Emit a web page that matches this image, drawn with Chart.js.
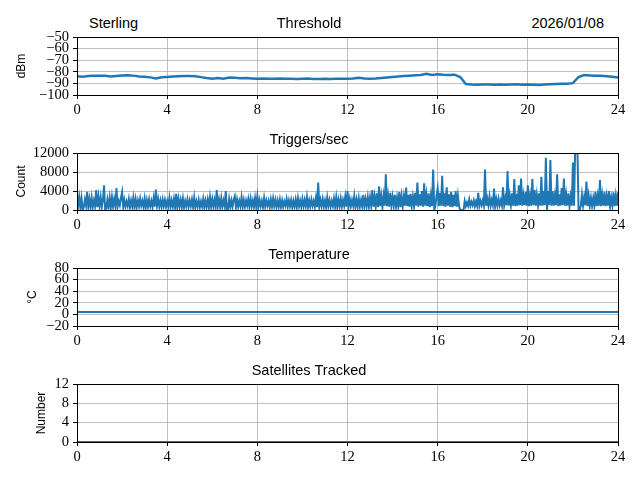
<!DOCTYPE html>
<html>
<head>
<meta charset="utf-8">
<script src="https://cdn.jsdelivr.net/npm/chart.js@4.4.1/dist/chart.umd.min.js"></script>
<style>
  html, body { margin: 0; padding: 0; background: #fff; }
  body { width: 640px; height: 480px; position: relative; overflow: hidden; }
  canvas { position: absolute; left: 0; }
  .hdr { position: absolute; font-family: "Liberation Sans", Arial, sans-serif; font-size: 14.5px; line-height: 17.4px; color: #000; white-space: nowrap; }
</style>
</head>
<body>
<div class="hdr" id="site" style="left:89px; top:15px;">Sterling</div>
<div class="hdr" id="date" style="right:36px; top:15px;">2026/01/08</div>
<canvas id="c1" width="640" height="104" style="top:13px"></canvas>
<canvas id="c2" width="640" height="103" style="top:129px"></canvas>
<canvas id="c3" width="640" height="104" style="top:244px"></canvas>
<canvas id="c4" width="640" height="104" style="top:360px"></canvas>
<script>
// ---------------- data ----------------
const hourTicks = [0, 4, 8, 12, 16, 20, 24];

// Threshold (dBm), sampled every 0.25 h
const thresholdStep = 0.25;
const thresholdValues = [
  -83.8, -84.2, -83.6, -83.3, -83.5, -83.4, -84.0, -83.6, -83.2, -82.9, -83.3, -84.0,
  -84.2, -84.8, -85.7, -84.7, -84.4, -84.0, -83.8, -83.6, -83.7, -83.9, -84.6, -85.4,
  -86.0, -85.3, -85.9, -85.0, -85.2, -85.5, -85.4, -85.7, -85.9, -85.8, -86.0, -85.9,
  -85.8, -86.0, -85.9, -86.1, -86.0, -85.8, -86.1, -86.2, -86.0, -86.1, -85.9, -86.0,
  -85.9, -85.7, -85.1, -85.7, -85.9, -85.8, -85.4, -84.9, -84.4, -84.0, -83.7, -83.4,
  -83.0, -82.7, -81.8, -82.8, -82.1, -82.6, -82.7, -82.5, -84.5, -90.5, -91.0, -91.1,
  -90.9, -91.0, -91.1, -90.9, -91.2, -91.0, -90.8, -91.1, -91.0, -91.2, -91.4, -91.0,
  -90.8, -90.6, -90.4, -90.3, -89.8, -84.5, -82.8, -83.2, -83.5, -83.4, -83.8, -84.3,
  -85.0
];
const thresholdTicks = [-100, -90, -80, -70, -60, -50];

// Triggers/sec (count), sampled every 0.05 h (one row per hour)
const triggerStep = 0.05;
const triggerValues = [
  3500, 800, 2700, 500, 2500, 0, 600, 2200, 900, 3800, 700, 2300, 500, 2600, 600, 2000, 800, 4200, 600, 2800,
  800, 2700, 600, 2100, 5200, 0, 300, 2200, 600, 2600, 500, 2700, 700, 2300, 800, 4600, 700, 1900, 1000, 2600,
  3800, 600, 2100, 700, 1800, 800, 2300, 600, 2000, 700, 2600, 500, 2300, 600, 2000, 800, 2400, 900, 1900, 600,
  2400, 500, 2100, 700, 2200, 800, 1900, 600, 2500, 700, 4300, 900, 2300, 700, 2000, 600, 2200, 800, 2100, 700,
  1900, 800, 2600, 600, 2000, 700, 2300, 500, 3400, 600, 2400, 700, 2100, 600, 2400, 500, 1900, 800, 2200, 700,
  2000, 800, 2200, 600, 2600, 500, 1800, 700, 2100, 600, 1800, 700, 2300, 500, 2000, 700, 2200, 500, 2700, 700,
  2300, 700, 2100, 600, 4200, 800, 2200, 600, 2500, 700, 2000, 800, 4000, 0, 200, 2300, 700, 2000, 600, 2200,
  2900, 600, 2200, 700, 1900, 800, 2700, 600, 2100, 700, 2000, 900, 2300, 600, 2400, 800, 2000, 600, 2500, 700,
  2900, 700, 2100, 800, 1900, 600, 2500, 700, 2000, 900, 1900, 600, 2200, 700, 2400, 800, 2100, 600, 2000, 700,
  2200, 600, 2000, 700, 1800, 900, 2300, 700, 2000, 800, 2100, 600, 1900, 700, 2200, 600, 2500, 800, 2000, 700,
  2300, 700, 2100, 800, 2700, 600, 2000, 700, 2200, 900, 1900, 700, 2500, 600, 5800, 700, 2100, 800, 2300, 700,
  2000, 600, 2600, 800, 2100, 700, 1900, 800, 2400, 700, 2700, 600, 2200, 800, 2400, 700, 2100, 900, 2800, 700,
  4000, 700, 2300, 800, 2100, 900, 2900, 700, 2200, 600, 2500, 700, 2100, 800, 3200, 700, 2300, 800, 2700, 700,
  2600, 900, 4200, 700, 2800, 800, 3500, 600, 5000, 800, 2900, 600, 3000, 900, 7500, 800, 3000, 700, 3600, 900,
  2800, 900, 3200, 700, 2600, 800, 3800, 600, 2900, 700, 2800, 900, 4700, 800, 3200, 700, 3400, 900, 2800, 800,
  3600, 900, 5800, 700, 3300, 900, 4000, 700, 5600, 900, 3200, 800, 3500, 600, 3000, 800, 8500, 0, 900, 3000,
  4500, 800, 3600, 900, 7200, 800, 3500, 700, 4800, 900, 3300, 700, 3800, 600, 3200, 800, 4000, 700, 3000, 800,
  0, 0, 0, 0, 1900, 800, 1600, 900, 2200, 900, 1700, 1000, 2000, 800, 1800, 900, 3600, 900, 1900, 1000,
  2000, 900, 8500, 900, 2400, 1000, 2800, 900, 2100, 1000, 4500, 800, 2300, 900, 2400, 1000, 2000, 900, 4800, 1000,
  2500, 1000, 8200, 900, 3000, 1000, 3500, 900, 6500, 800, 3400, 900, 5200, 1000, 6600, 900, 3100, 1000, 3800, 900,
  5200, 800, 3000, 900, 6500, 1000, 4200, 900, 3200, 1000, 3500, 900, 7000, 900, 4000, 1000, 11000, 0, 4000, 1000,
  10500, 900, 4000, 900, 3000, 1000, 7500, 800, 3300, 900, 4600, 1000, 6600, 900, 3200, 900, 3500, 800, 2800, 900,
  10000, 900, 12800, 12800, 13000, 0, 0, 900, 3200, 900, 2700, 1000, 6000, 800, 3000, 900, 2600, 800, 2500, 900,
  3800, 800, 2900, 900, 6300, 800, 3100, 900, 3800, 800, 2900, 900, 4000, 800, 2600, 900, 3700, 800, 3000, 900,
  3800
];
const triggerTicks = [0, 4000, 8000, 12000];

// Temperature (°C), hourly
const temperatureStep = 1;
const temperatureValues = [4, 4, 4, 4, 4, 4, 4, 4, 4, 4, 4, 4, 4, 4, 4, 4, 4, 4, 4, 4, 4, 4, 4, 4, 4];
const temperatureTicks = [-20, 0, 20, 40, 60, 80];

// Satellites tracked, hourly
const satellitesStep = 1;
const satellitesValues = [0, 0, 0, 0, 0, 0, 0, 0, 0, 0, 0, 0, 0, 0, 0, 0, 0, 0, 0, 0, 0, 0, 0, 0, 0];
const satellitesTicks = [0, 4, 8, 12];

// ---------------- drawing ----------------
const LINE = '#1f77b4';
const GRID = '#b0b0b0';
const SERIF = "'Liberation Serif', 'DejaVu Serif', serif";
const SANS = "'Liberation Sans', Arial, sans-serif";

function toPoints(values, step) {
  return values.map((v, i) => ({ x: Math.round(i * step * 1000) / 1000, y: v }));
}
function fmt(v) {
  return String(v).replace('-', '\u2212');
}

const framePlugin = {
  id: 'frame',
  afterDraw(chart) {
    const a = chart.chartArea, ctx = chart.ctx;
    ctx.save();
    ctx.strokeStyle = '#000';
    ctx.lineWidth = 1;
    const l = Math.round(a.left) + 0.5, t = Math.round(a.top) + 0.5;
    const r = Math.round(a.right) + 0.5, b = Math.round(a.bottom) + 0.5;
    ctx.strokeRect(l, t, r - l, b - t);
    ctx.restore();
  }
};

function panel(id, title, yLabel, yLabelPad, values, step, ticks, width, clip) {
  new Chart(document.getElementById(id), {
    type: 'line',
    data: {
      datasets: [{
        data: toPoints(values, step),
        borderColor: LINE,
        borderWidth: width,
        pointRadius: 0,
        tension: 0,
        fill: false,
        clip: clip
      }]
    },
    options: {
      responsive: false,
      animation: false,
      devicePixelRatio: 1,
      parsing: false,
      normalized: true,
      layout: { padding: { left: 0, right: 22, top: 0, bottom: 0 } },
      plugins: {
        legend: { display: false },
        tooltip: { enabled: false },
        title: {
          display: true,
          text: title,
          color: '#000',
          font: { family: SANS, size: 14.5, weight: 'normal', lineHeight: 1.2 },
          padding: { top: 2, bottom: 4.6 }
        }
      },
      scales: {
        x: {
          type: 'linear',
          min: hourTicks[0],
          max: hourTicks[hourTicks.length - 1],
          afterBuildTicks(scale) { scale.ticks = hourTicks.map(v => ({ value: v })); },
          afterFit(scale) { scale.height = 22; },
          grid: { color: GRID, lineWidth: 0.8, tickColor: '#000', tickLength: 4, tickWidth: 1 },
          border: { display: false },
          ticks: {
            color: '#000', padding: 2, maxRotation: 0, autoSkip: false,
            font: { family: SERIF, size: 14.5 },
            callback: v => fmt(v)
          }
        },
        y: {
          type: 'linear',
          min: ticks[0],
          max: ticks[ticks.length - 1],
          afterBuildTicks(scale) { scale.ticks = ticks.map(v => ({ value: v })); },
          afterFit(scale) { scale.width = 77; },
          grid: { color: GRID, lineWidth: 0.8, tickColor: '#000', tickLength: 4, tickWidth: 1 },
          border: { display: false },
          title: {
            display: true,
            text: yLabel,
            color: '#000',
            font: { family: SANS, size: 12, lineHeight: 1.2 },
            padding: { top: yLabelPad, bottom: 0 }
          },
          ticks: {
            color: '#000', padding: 4, autoSkip: false,
            font: { family: SERIF, size: 14.5 },
            callback: v => fmt(v)
          }
        }
      }
    },
    plugins: [framePlugin]
  });
}

panel('c1', 'Threshold', 'dBm', 14.5, thresholdValues, thresholdStep, thresholdTicks, 2.5, true);
panel('c2', 'Triggers/sec', 'Count', 14, triggerValues, triggerStep, triggerTicks, 2, true);
panel('c3', 'Temperature', '\u00B0C', 25, temperatureValues, temperatureStep, temperatureTicks, 2, true);
panel('c4', 'Satellites Tracked', 'Number', 34, satellitesValues, satellitesStep, satellitesTicks, 2, false);
</script>
</body>
</html>
